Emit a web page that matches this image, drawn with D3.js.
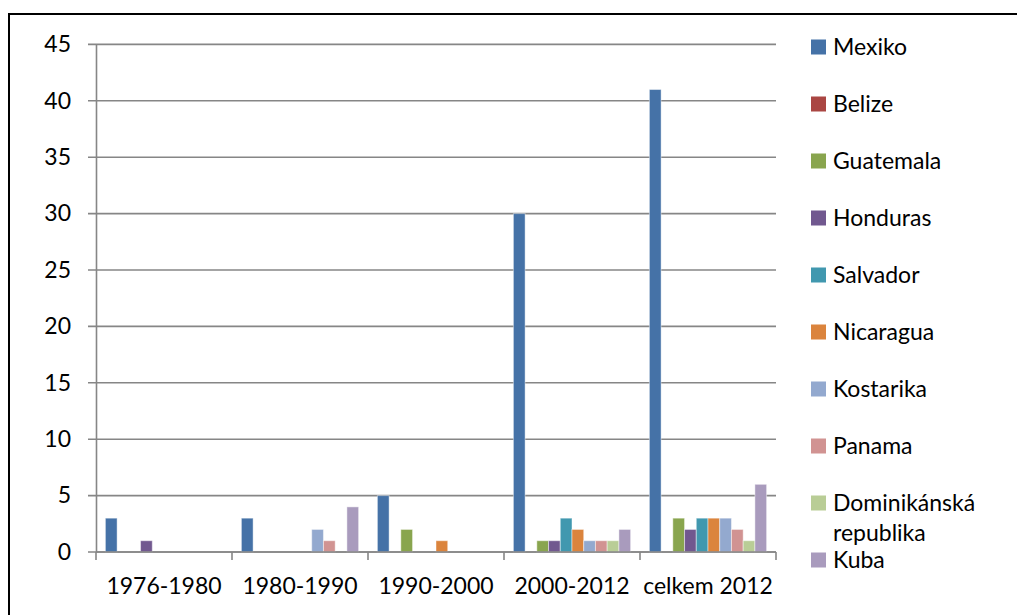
<!DOCTYPE html>
<html>
<head>
<meta charset="utf-8">
<script src="https://cdn.jsdelivr.net/npm/d3@7"></script>
<style>
  body { margin: 0; background: #fff; }
  text { font-family: Lato, "Noto Sans", sans-serif; fill: #000; }
</style>
</head>
<body>
<svg></svg>
<script>
// data
const categories = ["1976-1980", "1980-1990", "1990-2000", "2000-2012", "celkem 2012"];
const countries = ["Mexiko", "Belize", "Guatemala", "Honduras", "Salvador", "Nicaragua",
  "Kostarika", "Panama", "Dominikánská republika", "Kuba"];
const mexiko = [3, 3, 5, 30, 41];
const belize = [0, 0, 0, 0, 0];
const guatemala = [0, 0, 2, 1, 3];
const honduras = [1, 0, 0, 1, 2];
const salvador = [0, 0, 0, 3, 3];
const nicaragua = [0, 0, 1, 2, 3];
const kostarika = [0, 2, 0, 1, 3];
const panama = [0, 1, 0, 1, 2];
const dominikanska = [0, 0, 0, 1, 1];
const kuba = [0, 4, 0, 2, 6];
const yTicks = [0, 5, 10, 15, 20, 25, 30, 35, 40, 45];
const colors = ["#4572A7", "#AA4643", "#89A54E", "#71588F", "#4198AF", "#DB843D",
  "#93A9CF", "#D19392", "#B9CD96", "#A99BBD"];

const series = [mexiko, belize, guatemala, honduras, salvador, nicaragua,
  kostarika, panama, dominikanska, kuba];

window.onload = () => {
  const width = 1017, height = 615;
  const svg = d3.select("svg").attr("width", width).attr("height", height);

  // outer frame (cut off on the right and bottom)
  svg.append("path")
    .attr("d", `M9,${height + 5} L9,14 L${width + 5},14`)
    .attr("fill", "none")
    .attr("stroke", "#000")
    .attr("stroke-width", 2);

  const left = 96, right = 776, top = 44.4, bottom = 552;

  const x = d3.scaleBand().domain(categories).range([left, right]);
  const xInner = d3.scaleBand().domain(d3.range(countries.length))
    .range([0, x.bandwidth()]).paddingInner(0).paddingOuter(0.8);
  const y = d3.scaleLinear().domain([0, 45]).range([bottom, top]);

  // gridlines
  svg.append("g")
    .selectAll("line")
    .data(yTicks)
    .join("line")
    .attr("x1", left - 8)
    .attr("x2", right)
    .attr("y1", d => y(d))
    .attr("y2", d => y(d))
    .attr("stroke", "#868686")
    .attr("stroke-width", 1.6);

  // y axis
  const yAxis = svg.append("g")
    .attr("transform", `translate(${left},0)`)
    .call(d3.axisLeft(y).tickValues(yTicks).tickSize(0).tickPadding(25));
  yAxis.select(".domain").attr("stroke", "#868686").attr("stroke-width", 1.6);
  yAxis.selectAll("text").attr("font-size", 23).attr("font-family", "Lato");

  // bars
  svg.append("g")
    .selectAll("g")
    .data(series)
    .join("g")
    .attr("fill", (d, i) => colors[i])
    .selectAll("rect")
    .data((d, i) => d.map((v, j) => ({ v, j, i })).filter(o => o.v > 0))
    .join("rect")
    .attr("x", d => x(categories[d.j]) + xInner(d.i))
    .attr("width", xInner.bandwidth())
    .attr("y", d => y(d.v))
    .attr("height", d => y(0) - y(d.v))
    .attr("stroke", "#ffffff")
    .attr("stroke-opacity", 0.45)
    .attr("stroke-width", 1);

  // x axis
  const xAxis = svg.append("g")
    .attr("transform", `translate(0,${bottom})`)
    .call(d3.axisBottom(x).tickSize(0).tickPadding(26));
  xAxis.select(".domain").remove();
  xAxis.append("line")
    .attr("x1", left).attr("x2", right)
    .attr("stroke", "#868686").attr("stroke-width", 1.6);
  xAxis.selectAll(".sep")
    .data(d3.range(categories.length + 1))
    .join("line")
    .attr("class", "sep")
    .attr("x1", i => left + i * x.step())
    .attr("x2", i => left + i * x.step())
    .attr("y1", 0).attr("y2", 8)
    .attr("stroke", "#868686").attr("stroke-width", 1.6);
  xAxis.selectAll("text").attr("font-size", 23).attr("font-family", "Lato");

  // legend
  const legendY = [47, 104, 161, 218, 275, 332, 389, 446, 503, 560];
  const legend = svg.append("g")
    .selectAll("g")
    .data(countries)
    .join("g")
    .attr("transform", (d, i) => `translate(811,${legendY[i]})`);
  legend.append("rect")
    .attr("x", 0).attr("y", -7.5)
    .attr("width", 15).attr("height", 15)
    .attr("fill", (d, i) => colors[i]);
  legend.append("text")
    .attr("x", 22)
    .attr("dy", "0.35em")
    .attr("font-size", 23)
    .each(function (d) {
      const parts = d.split(" ");
      const t = d3.select(this);
      if (parts.length > 1) {
        t.attr("dy", null).attr("y", 8);
        t.append("tspan").attr("x", 22).text(parts[0]);
        t.append("tspan").attr("x", 22).attr("dy", 30).text(parts[1]);
      } else {
        t.text(d);
      }
    });
};
</script>
</body>
</html>
